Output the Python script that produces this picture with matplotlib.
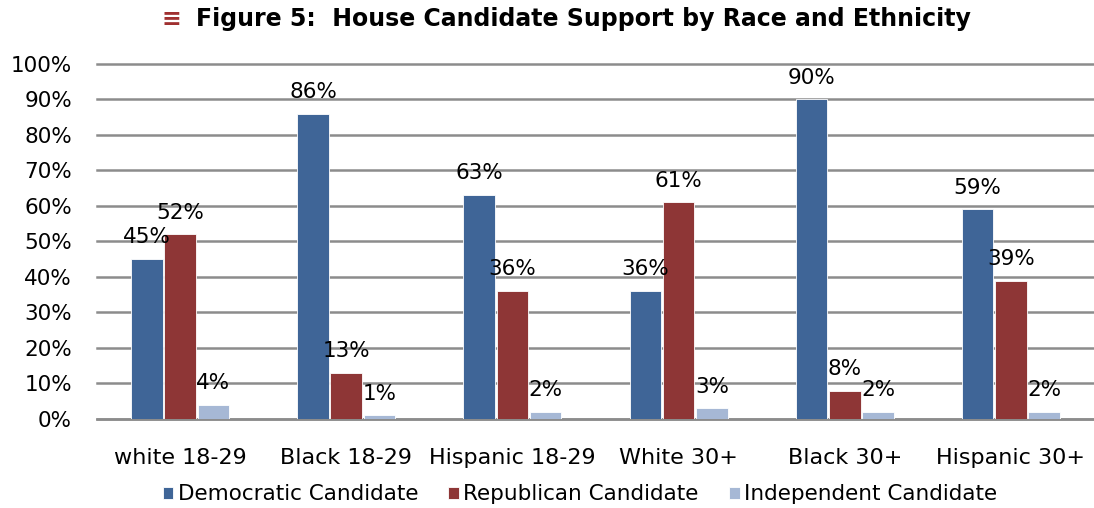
import matplotlib.pyplot as plt
import numpy as np

categories = ["white 18-29", "Black 18-29", "Hispanic 18-29", "White 30+", "Black 30+", "Hispanic 30+"]
democratic = [45, 86, 63, 36, 90, 59]
republican = [52, 13, 36, 61, 8, 39]
independent = [4, 1, 2, 3, 2, 2]
series_names = ["Democratic Candidate", "Republican Candidate", "Independent Candidate"]
colors = ["#3F6597", "#8E3636", "#A6B8D5"]

plt.rcParams['font.family'] = ['DejaVu Sans']

fig = plt.figure(figsize=(10.94, 5.08), dpi=100)
ax = fig.add_axes([0.0887, 0.1752, 0.9113, 0.699])

x = np.arange(len(categories))
w = 0.19
offsets = [-0.2, 0.0, 0.2]
for vals, off, col, name in zip([democratic, republican, independent], offsets, colors, series_names):
    bars = ax.bar(x + off, vals, w, color=col, label=name, edgecolor="white", linewidth=0.6, zorder=3)
    for b, v in zip(bars, vals):
        ax.annotate(f"{v}%", (b.get_x() + b.get_width() / 2, v), xytext=(0, 8.5),
                    textcoords="offset points", ha="center", va="bottom", fontsize=15.5, zorder=4)

ax.set_xlim(-0.5, len(categories) - 0.5)
ax.set_ylim(0, 100)
ax.set_yticks(range(0, 101, 10))
ax.set_yticklabels([f"{t}%" for t in range(0, 101, 10)], fontsize=15.5)
ax.set_xticks(x)
ax.set_xticklabels(categories, fontsize=16)
ax.tick_params(axis="y", length=0, pad=18)
ax.tick_params(axis="x", length=0, pad=21)
ax.yaxis.grid(True, color="#8C8C8C", linewidth=1.8, zorder=0)
for line in ax.get_ygridlines():
    line.set_clip_on(False)
for s in ["left", "right", "top"]:
    ax.spines[s].set_visible(False)
ax.spines["bottom"].set_color("#8C8C8C")
ax.spines["bottom"].set_linewidth(1.8)
ax.set_axisbelow(True)

fig.text(0.148, 0.962, "\u2261", color="#A03030", fontsize=17, fontweight="bold", ha="left", va="center")
fig.text(0.533, 0.962, "Figure 5:  House Candidate Support by Race and Ethnicity",
         fontsize=17, fontweight="bold", ha="center", va="center")

fig.legend(loc="center", bbox_to_anchor=(0.53, 0.027), ncol=3, frameon=False, fontsize=15.5,
           handlelength=0.5, handleheight=0.5, handletextpad=0.2, columnspacing=1.4)

fig.savefig("out.png", dpi=100)
